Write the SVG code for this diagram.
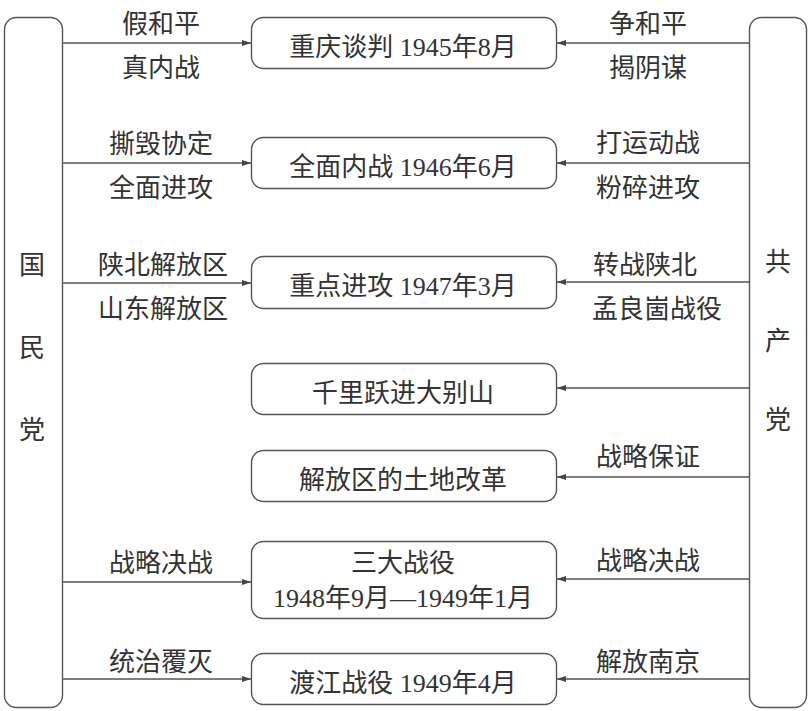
<svg xmlns="http://www.w3.org/2000/svg" width="812" height="711" viewBox="0 0 812 711">
<style>
text{font-family:"Liberation Serif","Noto Sans CJK SC",serif;font-size:26px;fill:#333;text-anchor:middle}
.box{fill:#fff;stroke:#555;stroke-width:1.4}
.con{stroke:#555;stroke-width:1.3;fill:none}
</style>
<defs>
<marker id="ah" markerWidth="10" markerHeight="8" refX="9" refY="4" orient="auto" markerUnits="userSpaceOnUse">
<path d="M0,1 L9,4 L0,7 Z" fill="#444"/>
</marker>
</defs>
<rect width="812" height="711" fill="#fff"/>
<g id="kmt">
<rect class="box" x="4.5" y="17.5" width="58" height="690" rx="12"/>
<text x="32" y="274">国</text>
<text x="32" y="357">民</text>
<text x="32" y="439">党</text>
</g>
<g id="ccp">
<rect class="box" x="749.5" y="17.5" width="57" height="690" rx="12"/>
<text x="778" y="271">共</text>
<text x="778" y="350">产</text>
<text x="778" y="429">党</text>
</g>
<g id="n1"><rect class="box" x="251.5" y="17.5" width="305" height="51" rx="12"/><text x="403" y="56">重庆谈判 1945年8月</text></g>
<g id="n2"><rect class="box" x="251.5" y="137.5" width="305" height="51" rx="12"/><text x="403" y="176">全面内战 1946年6月</text></g>
<g id="n3"><rect class="box" x="251.5" y="256.5" width="305" height="52" rx="12"/><text x="403" y="295">重点进攻 1947年3月</text></g>
<g id="n4"><rect class="box" x="251.5" y="363.5" width="305" height="51" rx="12"/><text x="403" y="402">千里跃进大别山</text></g>
<g id="n5"><rect class="box" x="251.5" y="450.5" width="305" height="51" rx="12"/><text x="403" y="489">解放区的土地改革</text></g>
<g id="n6"><rect class="box" x="251.5" y="541.5" width="305" height="77" rx="12"/><text x="403" y="572">三大战役</text><text x="403" y="607">1948年9月—1949年1月</text></g>
<g id="n7"><rect class="box" x="251.5" y="653.5" width="305" height="51" rx="12"/><text x="403" y="692">渡江战役 1949年4月</text></g>
<g id="connectors">
<line class="con" x1="63" y1="43" x2="251" y2="43" marker-end="url(#ah)"/>
<line class="con" x1="63" y1="163" x2="251" y2="163" marker-end="url(#ah)"/>
<line class="con" x1="63" y1="283" x2="251" y2="283" marker-end="url(#ah)"/>
<line class="con" x1="63" y1="582" x2="251" y2="582" marker-end="url(#ah)"/>
<line class="con" x1="63" y1="679" x2="251" y2="679" marker-end="url(#ah)"/>
<line class="con" x1="749" y1="43" x2="557" y2="43" marker-end="url(#ah)"/>
<line class="con" x1="749" y1="163" x2="557" y2="163" marker-end="url(#ah)"/>
<line class="con" x1="749" y1="282" x2="557" y2="282" marker-end="url(#ah)"/>
<line class="con" x1="749" y1="388" x2="557" y2="388" marker-end="url(#ah)"/>
<line class="con" x1="749" y1="477" x2="557" y2="477" marker-end="url(#ah)"/>
<line class="con" x1="749" y1="579" x2="557" y2="579" marker-end="url(#ah)"/>
<line class="con" x1="749" y1="679" x2="557" y2="679" marker-end="url(#ah)"/>
</g>
<g id="labels">
<text x="161" y="33">假和平</text>
<text x="161" y="77">真内战</text>
<text x="161" y="153">撕毁协定</text>
<text x="161" y="197">全面进攻</text>
<text x="163" y="274">陕北解放区</text>
<text x="163" y="318">山东解放区</text>
<text x="161" y="572">战略决战</text>
<text x="161" y="671">统治覆灭</text>
<text x="648" y="33">争和平</text>
<text x="648" y="77">揭阴谋</text>
<text x="648" y="152">打运动战</text>
<text x="648" y="197">粉碎进攻</text>
<text x="645" y="274">转战陕北</text>
<text x="657" y="318">孟良崮战役</text>
<text x="648" y="466">战略保证</text>
<text x="648" y="570">战略决战</text>
<text x="648" y="671">解放南京</text>
</g>
</svg>
